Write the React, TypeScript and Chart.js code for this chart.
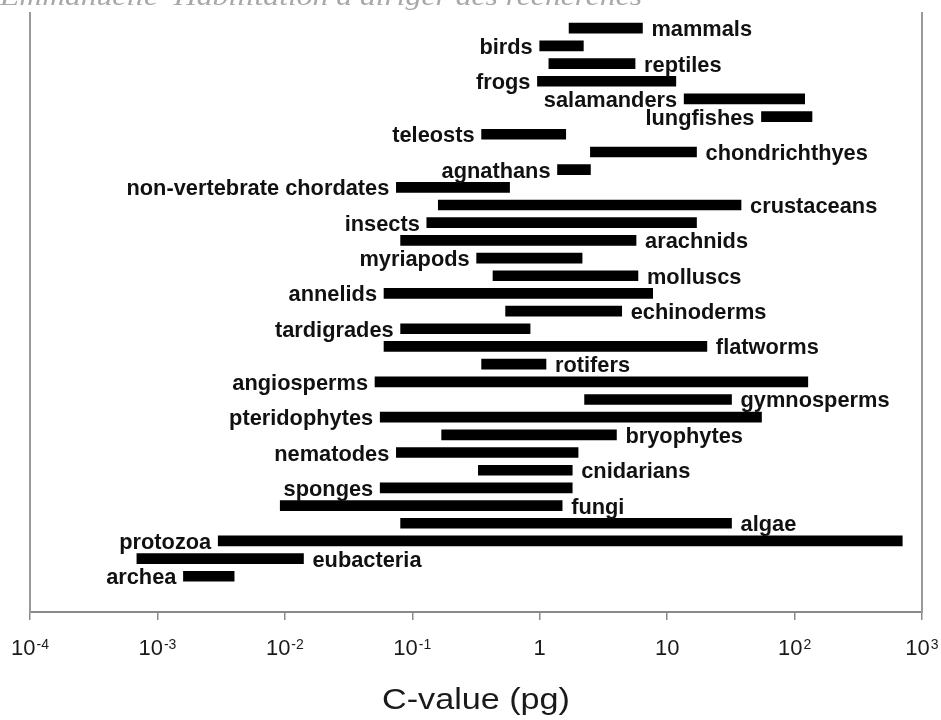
import { useEffect, useRef } from 'react';
import { Chart, registerables } from 'chart.js';

Chart.register(...registerables);

const groups = [
  'mammals', 'birds', 'reptiles', 'frogs', 'salamanders', 'lungfishes', 'teleosts',
  'chondrichthyes', 'agnathans', 'non-vertebrate chordates', 'crustaceans', 'insects',
  'arachnids', 'myriapods', 'molluscs', 'annelids', 'echinoderms', 'tardigrades',
  'flatworms', 'rotifers', 'angiosperms', 'gymnosperms', 'pteridophytes', 'bryophytes',
  'nematodes', 'cnidarians', 'sponges', 'fungi', 'algae', 'protozoa', 'eubacteria', 'archea',
];

const lowValues = [
  1.7, 1.0, 1.18, 0.96, 13.6, 55, 0.35,
  2.5, 1.38, 0.075, 0.16, 0.13,
  0.081, 0.32, 0.43, 0.06, 0.54, 0.081,
  0.06, 0.35, 0.051, 2.25, 0.056, 0.17,
  0.075, 0.33, 0.056, 0.0092, 0.081, 0.003, 0.00069, 0.0016,
];

const highValues = [
  6.4, 2.2, 5.6, 11.7, 120, 137, 1.6,
  17, 2.5, 0.58, 38, 17,
  5.7, 2.15, 5.9, 7.7, 4.4, 0.84,
  20.5, 1.12, 127, 32, 55, 4.0,
  2.0, 1.8, 1.8, 1.5, 32, 700, 0.014, 0.004,
];

// side of the bar on which each label sits
const labelSides = [
  'R', 'L', 'R', 'L', 'L', 'L', 'L',
  'R', 'L', 'L', 'R', 'L',
  'R', 'L', 'R', 'L', 'R', 'L',
  'R', 'R', 'L', 'R', 'L', 'R',
  'L', 'R', 'L', 'R', 'R', 'L', 'R', 'L',
];

const tickValues = [1e-4, 1e-3, 1e-2, 1e-1, 1, 10, 100, 1000];
const tickBases = ['10', '10', '10', '10', '1', '10', '10', '10'];
const tickExponents = ['-4', '-3', '-2', '-1', '', '', '2', '3'];

const axisTitle = 'C-value (pg)';
const headerText = 'Emmanuelle  Habilitation à diriger des recherches';

const SANS = '"Liberation Sans", Arial, Helvetica, sans-serif';
const SERIF = '"Liberation Serif", "Times New Roman", serif';

const textPlugin = {
  id: 'cvalueText',
  afterDraw(chart: any) {
    const ctx = chart.ctx as CanvasRenderingContext2D;
    const xs = chart.scales.x;
    const ys = chart.scales.y;

    // group labels beside the bars
    ctx.save();
    ctx.fillStyle = '#111';
    ctx.font = `bold 20px ${SANS}`;
    ctx.textBaseline = 'alphabetic';
    groups.forEach((name, i) => {
      const y = ys.getPixelForValue(i) + 8;
      const left = xs.getPixelForValue(lowValues[i]);
      const right = xs.getPixelForValue(highValues[i]);
      const onLeft = labelSides[i] === 'L';
      ctx.save();
      ctx.translate(onLeft ? left - 7 : right + 9, y);
      ctx.scale(1.09, 1.07);
      ctx.textAlign = onLeft ? 'right' : 'left';
      ctx.fillText(name, 0, 0);
      ctx.restore();
    });
    ctx.restore();

    // tick labels with superscript exponents
    ctx.save();
    ctx.fillStyle = '#1a1a1a';
    ctx.textBaseline = 'alphabetic';
    ctx.textAlign = 'left';
    const baseFont = `22px ${SANS}`;
    const expFont = `14px ${SANS}`;
    tickValues.forEach((v, i) => {
      const px = xs.getPixelForValue(v);
      ctx.font = baseFont;
      const wb = ctx.measureText(tickBases[i]).width;
      ctx.font = expFont;
      const we = tickExponents[i] ? ctx.measureText(tickExponents[i]).width + 1 : 0;
      const start = px - (wb + we) / 2;
      ctx.font = baseFont;
      ctx.fillText(tickBases[i], start, 655);
      if (tickExponents[i]) {
        ctx.font = expFont;
        ctx.fillText(tickExponents[i], start + wb + 1, 649);
      }
    });
    ctx.restore();

    // axis title
    ctx.save();
    ctx.fillStyle = '#1a1a1a';
    ctx.font = `29px ${SANS}`;
    ctx.textAlign = 'center';
    ctx.textBaseline = 'alphabetic';
    const tw = ctx.measureText(axisTitle).width;
    const cx = (chart.chartArea.left + chart.chartArea.right) / 2;
    ctx.translate(cx, 709);
    ctx.scale(188 / tw, 1);
    ctx.fillText(axisTitle, 0, 0);
    ctx.restore();

    // header text cut at the top of the page
    ctx.save();
    ctx.fillStyle = '#a8a8a8';
    ctx.font = `italic 25px ${SERIF}`;
    ctx.textAlign = 'left';
    ctx.textBaseline = 'alphabetic';
    const hw = ctx.measureText(headerText).width;
    ctx.translate(0, 5);
    ctx.scale(642 / hw, 1);
    ctx.fillText(headerText, 0, 0);
    ctx.restore();
  },
};

export default function App() {
  const canvasRef = useRef<HTMLCanvasElement | null>(null);

  useEffect(() => {
    document.body.style.margin = '0';
    document.body.style.background = '#fff';
    const canvas = canvasRef.current;
    if (!canvas) return;

    const sideAxis = {
      type: 'linear' as const,
      reverse: true,
      min: -0.86,
      max: 33.02,
      offset: false,
      bounds: 'data',
      grace: 0,
      ticks: { display: false },
      grid: { display: false, drawTicks: false, offset: false },
      border: { display: true, color: '#9a9a9a', width: 2 },
      afterFit: (s: any) => {
        s.width = 0;
      },
    };

    const chart = new Chart(canvas, {
      type: 'bar',
      data: {
        datasets: [
          {
            data: groups.map((g, i) => ({ x: [lowValues[i], highValues[i]], y: i })) as any,
            backgroundColor: '#000',
            borderWidth: 0,
            barThickness: 10,
          },
        ],
      },
      options: {
        indexAxis: 'y',
        animation: false,
        responsive: false,
        maintainAspectRatio: false,
        layout: { padding: { left: 30, right: 19, top: 13, bottom: 0 } },
        plugins: {
          legend: { display: false },
          tooltip: { enabled: false },
          title: { display: false },
        },
        scales: {
          x: {
            type: 'logarithmic',
            min: 1e-4,
            max: 1e3,
            afterBuildTicks: (s: any) => {
              s.ticks = tickValues.map((v) => ({ value: v, major: true }));
            },
            ticks: { display: false },
            grid: {
              display: true,
              drawOnChartArea: false,
              drawTicks: true,
              tickLength: 8,
              color: '#8a8a8a',
              lineWidth: 1.5,
            },
            border: { display: true, color: '#8a8a8a', width: 2 },
            afterFit: (s: any) => {
              s.height = 108;
            },
          },
          y: { ...sideAxis, position: 'left' },
          y2: { ...sideAxis, position: 'right' },
        } as any,
      },
      plugins: [textPlugin],
    });

    return () => {
      chart.destroy();
    };
  }, []);

  return (
    <div style={{ width: 941, height: 720, background: '#fff' }}>
      <canvas ref={canvasRef} width={941} height={720} style={{ display: 'block' }} />
    </div>
  );
}
